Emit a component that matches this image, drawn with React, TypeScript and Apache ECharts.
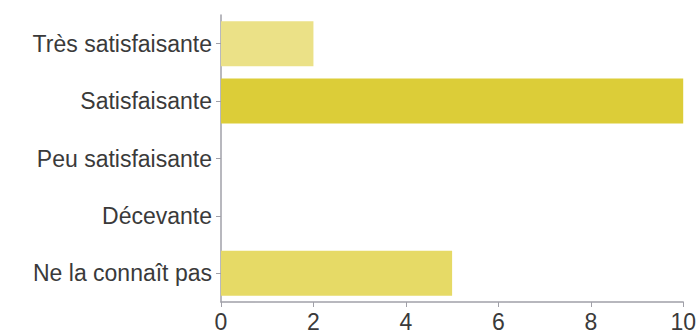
import React, { useEffect, useRef } from "react";
import * as echarts from "echarts";

const categories = ["Très satisfaisante", "Satisfaisante", "Peu satisfaisante", "Décevante", "Ne la connaît pas"];
const values = [2, 10, 0, 0, 5];
const barColors = ["#ebe187", "#dccd38", "#dccd38", "#dccd38", "#e6da66"];
const xTicks = [0, 2, 4, 6, 8, 10];

export default function App() {
  const ref = useRef<HTMLDivElement>(null);
  useEffect(() => {
    const chart = echarts.init(ref.current!, null, { renderer: "svg" });
    chart.setOption({
      animation: false,
      grid: { left: 221, right: 14, top: 15, bottom: 28, containLabel: false },
      xAxis: {
        type: "value",
        min: xTicks[0],
        max: xTicks[xTicks.length - 1],
        interval: 2,
        axisLine: { show: true, lineStyle: { color: "#a0a0a8", width: 1.5 } },
        axisTick: { show: true, length: 5, lineStyle: { color: "#a0a0a8" } },
        splitLine: { show: false },
        axisLabel: { color: "#3a3a3a", fontSize: 23, fontFamily: "Liberation Sans", margin: 8 },
      },
      yAxis: {
        type: "category",
        inverse: true,
        data: categories,
        axisLine: { show: true, lineStyle: { color: "#a0a0a8", width: 1.5 } },
        axisTick: { show: true, length: 5, alignWithLabel: true, lineStyle: { color: "#a0a0a8" } },
        axisLabel: { color: "#3a3a3a", fontSize: 23, fontFamily: "Liberation Sans", margin: 9 },
      },
      series: [
        {
          type: "bar",
          barWidth: 45,
          data: values.map((v, i) => ({ value: v, itemStyle: { color: barColors[i] } })),
        },
      ],
    });
    return () => chart.dispose();
  }, []);
  return <div ref={ref} style={{ width: 699, height: 333, position: "absolute", left: 0, top: 0 }} />;
}
